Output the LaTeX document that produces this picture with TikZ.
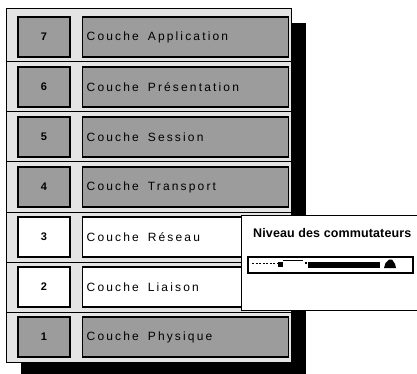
\documentclass[tikz,border=0pt]{standalone}
\usepackage{fontspec}
\setmainfont{Liberation Sans}
\definecolor{grisfond}{HTML}{E4E4E4}
\definecolor{griscouche}{HTML}{9C9C9C}
\tikzset{
  boite/.style={draw=black, line width=1.4pt, minimum height=40pt, inner sep=0pt,
    font=\fontsize{12}{14}\selectfont\addfontfeatures{LetterSpace=18}},
  numero/.style={boite, minimum width=52pt, font=\fontsize{11}{13}\selectfont\bfseries},
  couche/.style={boite, text width=198pt, align=left, inner xsep=4pt},
  fenetre/.style={draw=black, line width=1pt, fill=white},
}
\begin{document}
\begin{tikzpicture}[x=1pt,y=-1pt]
  \pgfmathsetmacro{\pas}{50}
  \pgfmathsetmacro{\haut}{37}
  \pgfmathsetmacro{\gauche}{6}
  \pgfmathsetmacro{\droite}{291}
  \useasboundingbox (0,0) rectangle (417,374);
  % ombre et panneau
  \fill[black] (21,23) rectangle (306,374);
  \draw[fill=grisfond, line width=0.8pt] (\gauche,8) rectangle (\droite,362);
  \foreach \k in {1,...,6} \draw[line width=1pt] (\gauche,12+\k*\pas) -- (\droite,12+\k*\pas);
  % les sept couches
  \foreach \n/\lab/\col [count=\k from 0] in {7/Application/griscouche, 6/Présentation/griscouche,
      5/Session/griscouche, 4/Transport/griscouche, 3/Réseau/white, 2/Liaison/white, 1/Physique/griscouche}{
    \node[numero, fill=\col] (num\n) at (44,\haut+\k*\pas) {\n};
    \node[couche, fill=\col, anchor=west] (couche\n) at (82,\haut+\k*\pas) {Couche\hspace{5pt} \lab};
  }
  % fenetre des commutateurs
  \draw[fenetre] (241,215) rectangle (419,310);
  \node[anchor=west, inner sep=0pt, font=\fontsize{12.5}{14}\selectfont\bfseries\addfontfeatures{LetterSpace=1}]
    (niveau) at (253,233) {Niveau des commutateurs};
  \draw[fenetre, line width=1.4pt] (248,257) rectangle (413,273);
  \draw[line width=0.8pt, dash pattern=on 2pt off 1.5pt] (252,263) -- (277,263);
  \fill (278,262) rectangle (283,267);
  \draw[line width=0.8pt] (283,260) -- (303,260);
  \fill (305,262) rectangle (306.5,263.5);
  \fill (308,262) rectangle (380,268);
  \fill (384,268) -- (385.5,263) -- (389,259.5) -- (392,259.5) -- (395,264) -- (396,268) -- cycle;
\end{tikzpicture}
\end{document}
